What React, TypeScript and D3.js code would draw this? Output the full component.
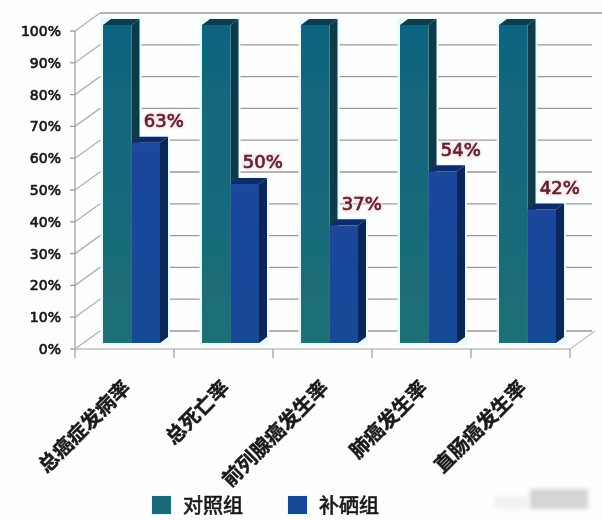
import { scaleBand, scaleLinear, range } from "d3";

const categories = ["总癌症发病率", "总死亡率", "前列腺癌发生率", "肺癌发生率", "直肠癌发生率"];
const seriesNames = ["对照组", "补硒组"];
const controlValues = [100, 100, 100, 100, 100];
const seleniumValues = [63, 50, 37, 54, 42];
const yTicks = range(0, 101, 10);

const width = 602;
const height = 520;

const x = scaleBand<string>().domain(categories).range([75, 570]);
const y = scaleLinear().domain([0, 100]).range([349, 31]);
const barX = scaleBand<string>().domain(seriesNames).range([28, 85]);

// 3d offsets: whole floor depth and the depth of one bar
const wall = { dx: 25, dy: -18 };
const barDepth = { dx: 8, dy: -6 };

const teal = { front: "url(#tealFront)", side: "#0b3a4a", top: "#0c3d4c" };
const blue = { front: "url(#blueFront)", side: "#0c2659", top: "#0c2c6a" };

// pale edge around a bar, from the jpeg
function BarEdge({ cat, name, value }: any) {
  const x0 = (x(cat) as number) + (barX(name) as number);
  const y1 = y(value) + barDepth.dy;
  const y0 = y(0) + barDepth.dy;
  return (
    <rect
      x={x0 - 2.5}
      y={y1 + barDepth.dy - 1}
      width={barX.bandwidth() + barDepth.dx + 4.5}
      height={y0 - y1 - barDepth.dy + 3}
      fill="#e6fbfb"
    />
  );
}

function Bar({ cat, name, value, c }: any) {
  const x0 = (x(cat) as number) + (barX(name) as number);
  const x1 = x0 + barX.bandwidth();
  const y0 = y(0) + barDepth.dy;
  const y1 = y(value) + barDepth.dy;
  const { dx, dy } = barDepth;
  return (
    <g>
      <path d={`M${x1},${y1}L${x1 + dx},${y1 + dy}L${x1 + dx},${y0 + dy}L${x1},${y0}Z`} fill={c.side} />
      <path d={`M${x0},${y1}L${x0 + dx},${y1 + dy}L${x1 + dx},${y1 + dy}L${x1},${y1}Z`} fill={c.top} />
      <rect x={x0} y={y1} width={x1 - x0} height={y0 - y1} fill={c.front} />
    </g>
  );
}

function App() {
  return (
    <svg
      width={width}
      height={height}
      style={{ position: "absolute", left: 0, top: 0, background: "#fefefe" }}
    >
      <defs>
        <linearGradient id="tealFront" x1="0" y1="0" x2="0" y2="1">
          <stop offset="0" stopColor="#0f6480" />
          <stop offset="1" stopColor="#1d6f76" />
        </linearGradient>
        <linearGradient id="blueFront" x1="0" y1="0" x2="0" y2="1">
          <stop offset="0" stopColor="#1a469c" />
          <stop offset="1" stopColor="#174a96" />
        </linearGradient>
        <filter id="soft" x="-5%" y="-5%" width="110%" height="110%">
          <feGaussianBlur stdDeviation="0.45" />
        </filter>
        <filter id="smudge" x="-20%" y="-40%" width="140%" height="180%">
          <feGaussianBlur stdDeviation="2" />
        </filter>
        <filter id="halo" x="-20%" y="-20%" width="140%" height="140%">
          <feGaussianBlur stdDeviation="1.5" />
        </filter>
      </defs>

      <g filter="url(#soft)">
        {/* walls */}
        {yTicks.map((t) => (
          <g key={t} stroke="#9a9a9a" strokeWidth={1.3} fill="none">
            <line x1={70} x2={x.range()[0]} y1={y(t)} y2={y(t)} />
            <line
              x1={x.range()[0]}
              y1={y(t)}
              x2={x.range()[0] + wall.dx}
              y2={y(t) + wall.dy}
              stroke="#b0b0b0"
            />
            <line
              x1={x.range()[0] + wall.dx}
              y1={y(t) + wall.dy}
              x2={t === 100 ? width : x.range()[1] + wall.dx - 3}
              y2={y(t) + wall.dy}
            />
          </g>
        ))}
        <line x1={75} x2={75} y1={y(100)} y2={y(0) + 9} stroke="#9a9a9a" strokeWidth={1.2} />
        <line x1={75} x2={570} y1={y(0)} y2={y(0)} stroke="#c0c0c0" strokeWidth={1.5} />
        <line x1={570} y1={y(0)} x2={570 + wall.dx} y2={y(0) + wall.dy} stroke="#c0c0c0" strokeWidth={1.2} />
        {categories.map((c) => (
          <line
            key={c}
            x1={(x(c) as number) + x.bandwidth()}
            x2={(x(c) as number) + x.bandwidth()}
            y1={y(0)}
            y2={y(0) + 9}
            stroke="#9a9a9a"
            strokeWidth={1.2}
          />
        ))}

        {/* bars */}
        {categories.map((c, i) => (
          <g key={c}>
            <BarEdge cat={c} name={seriesNames[0]} value={controlValues[i]} />
            <BarEdge cat={c} name={seriesNames[1]} value={seleniumValues[i]} />
            <Bar cat={c} name={seriesNames[0]} value={controlValues[i]} c={teal} />
            <Bar cat={c} name={seriesNames[1]} value={seleniumValues[i]} c={blue} />
          </g>
        ))}

        {/* y tick labels */}
        {yTicks.map((t) => (
          <text
            key={t}
            x={61}
            y={y(t)}
            dy="0.36em"
            textAnchor="end"
            fontFamily="DejaVu Sans"
            fontSize={14}
            fill="#1a1a1a"
            stroke="#1a1a1a"
            strokeWidth={0.7}
          >
            {t}%
          </text>
        ))}

        {/* value labels */}
        {categories.map((c, i) => {
          const lx = (x(c) as number) + (barX(seriesNames[1]) as number) + barX.bandwidth() / 2 + 18;
          const ly = y(seleniumValues[i]) + barDepth.dy * 2 - 16;
          const common = {
            x: lx,
            y: ly,
            dy: "0.36em",
            textAnchor: "middle",
            fontFamily: "DejaVu Sans",
            fontSize: 18,
          };
          return (
            <g key={c}>
              <text {...common} fill="#f8dfe2" stroke="#f8dfe2" strokeWidth={3} filter="url(#halo)">
                {seleniumValues[i]}%
              </text>
              <text {...common} fill="#5e2531" stroke="#5e2531" strokeWidth={0.7}>
                {seleniumValues[i]}%
              </text>
            </g>
          );
        })}

        {/* category labels */}
        {categories.map((c) => (
          <text
            key={c}
            transform={`translate(${(x(c) as number) + x.bandwidth() / 2 + 2},384) rotate(-45)`}
            textAnchor="end"
            dy="0.36em"
            fontFamily="Noto Sans CJK SC"
            fontWeight="bold"
            fontSize={20}
            fill="#1a1a1a"
            stroke="#1a1a1a"
            strokeWidth={0.4}
          >
            {c}
          </text>
        ))}

        {/* legend */}
        {seriesNames.map((s, i) => (
          <g key={s} transform={`translate(${152 + i * 136},496)`}>
            <rect x={-1.5} y={-1.5} width={22} height={21} fill="#e6fbfb" />
            <rect width={19} height={18} fill={i === 0 ? "#1d6b78" : "#174a96"} />
            <text
              x={31}
              y={10}
              dy="0.36em"
              fontFamily="Noto Sans CJK SC"
              fontSize={20}
              fill="#1a1a1a"
              stroke="#1a1a1a"
              strokeWidth={0.7}
            >
              {s}
            </text>
          </g>
        ))}
      </g>

      {/* blurred watermark */}
      <g filter="url(#smudge)">
        <rect x={494} y={497} width={34} height={12} fill="#f2f0f2" />
        <rect x={530} y={489} width={58} height={20} fill="#d6d3d7" />
      </g>
    </svg>
  );
}

export default App;
